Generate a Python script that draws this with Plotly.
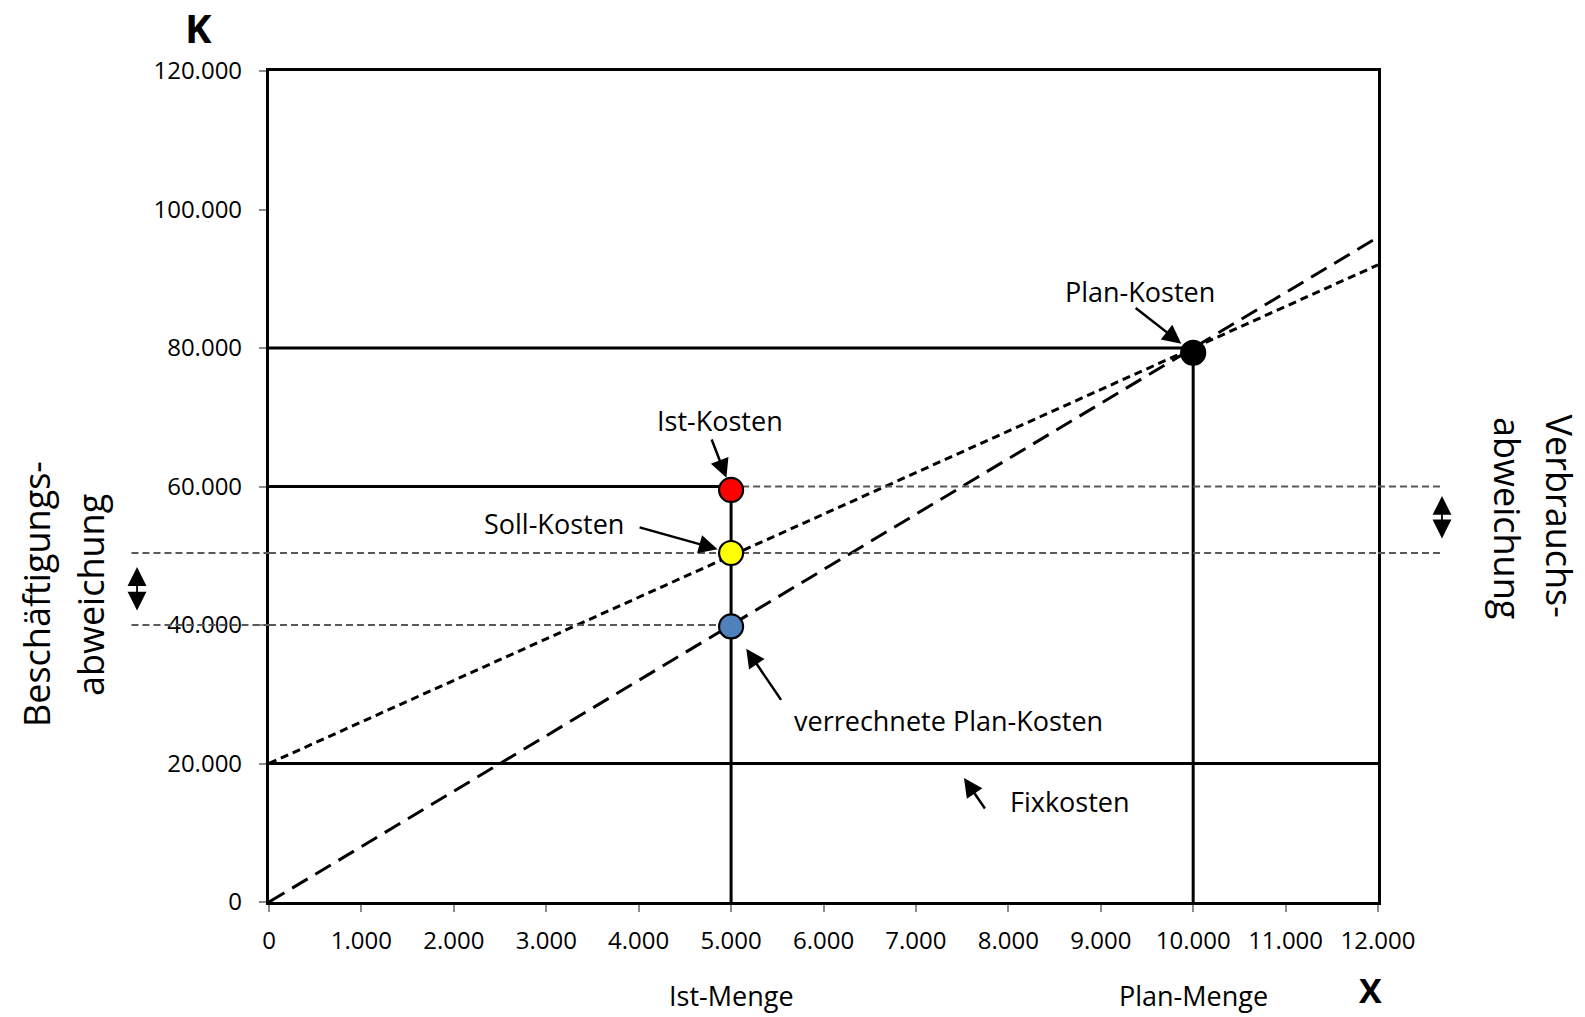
import plotly.graph_objects as go

# Axis extents and tick spacing
X_MAX = 12000
Y_MAX = 120000
X_STEP = 1000
Y_STEP = 20000

# Quantities
IST_MENGE = 5000
PLAN_MENGE = 10000

# Cost levels
FIXKOSTEN = 20000
PLAN_KOSTEN = 80000
IST_KOSTEN = 60000
SOLL_KOSTEN = 50400
VERRECHNET_KOSTEN = 40000

# Cost lines (x, K)
soll_line_x = [0, 12000]
soll_line_k = [20000, 92000]
verrechnet_line_x = [0, 11950]
verrechnet_line_k = [0, 95600]

# Marked points
point_names = ["Ist-Kosten", "Soll-Kosten", "verrechnete Plan-Kosten", "Plan-Kosten"]
point_x = [5000, 5000, 5000, 10000]
point_k = [59500, 50400, 39800, 79300]
point_colors = ["#ff0000", "#ffff00", "#4f81bd", "#000000"]

FONT = "Open Sans"
BLACK = "#000000"
GREY = "#595959"

fig = go.Figure()


def seg(xs, ys, color=BLACK, width=3, dash="solid"):
    fig.add_trace(go.Scatter(x=xs, y=ys, mode="lines", hoverinfo="skip",
                             line=dict(color=color, width=width, dash=dash)))


# Fixed costs
seg([0, X_MAX], [FIXKOSTEN, FIXKOSTEN])
# Budgeted cost line (Soll) and absorbed cost line (verrechnet)
seg(soll_line_x, soll_line_k, width=3, dash="8px,5px")
seg(verrechnet_line_x, verrechnet_line_k, width=3, dash="18px,9px")
# Reference lines at plan quantity
seg([0, PLAN_MENGE], [PLAN_KOSTEN, PLAN_KOSTEN])
seg([PLAN_MENGE, PLAN_MENGE], [0, point_k[3]])
# Reference lines at actual quantity
seg([0, IST_MENGE], [IST_KOSTEN, IST_KOSTEN])
seg([IST_MENGE, IST_MENGE], [0, point_k[0]])
# Grey guide lines for the variances (inside the plot area)
seg([0, IST_MENGE], [SOLL_KOSTEN, SOLL_KOSTEN], color=GREY, width=2.2, dash="7px,4px")
seg([0, IST_MENGE], [VERRECHNET_KOSTEN, VERRECHNET_KOSTEN], color=GREY, width=2.2, dash="7px,4px")
seg([IST_MENGE, X_MAX], [IST_KOSTEN, IST_KOSTEN], color=GREY, width=2.2, dash="7px,4px")
seg([IST_MENGE, X_MAX], [SOLL_KOSTEN, SOLL_KOSTEN], color=GREY, width=2.2, dash="7px,4px")

# Points
fig.add_trace(go.Scatter(
    x=point_x, y=point_k, mode="markers", text=point_names, hoverinfo="text",
    marker=dict(size=24, color=point_colors, line=dict(color=BLACK, width=2.2)),
))

# Grey guide lines continuing outside the plot area
LEFT_END = -0.124
RIGHT_END = 1.0595
shapes = []
for lvl in (SOLL_KOSTEN, VERRECHNET_KOSTEN):
    shapes.append(dict(type="line", xref="paper", yref="y", x0=LEFT_END, x1=0,
                       y0=lvl, y1=lvl, layer="above",
                       line=dict(color=GREY, width=2.2, dash="7px,4px")))
for lvl in (IST_KOSTEN, SOLL_KOSTEN):
    shapes.append(dict(type="line", xref="paper", yref="y", x0=1, x1=RIGHT_END,
                       y0=lvl, y1=lvl, layer="above",
                       line=dict(color=GREY, width=2.2, dash="7px,4px")))

annotations = []


def label(text, x, y, size=27, xref="x", yref="y", bold=False, angle=0):
    annotations.append(dict(
        text=f"<b>{text}</b>" if bold else text, x=x, y=y, xref=xref, yref=yref,
        showarrow=False, xanchor="center", yanchor="middle", textangle=angle,
        font=dict(family=FONT, size=size, color=BLACK)))


def pointer(x, y, ax, ay, standoff=0, xref="x", yref="y"):
    annotations.append(dict(
        text="", x=x, y=y, xref=xref, yref=yref, ax=ax, ay=ay,
        showarrow=True, arrowhead=2, arrowsize=1.5, arrowwidth=2.5,
        arrowcolor=BLACK, standoff=standoff))


def double_arrow(x, y, ay):
    annotations.append(dict(
        text="", x=x, y=y, xref="paper", yref="paper", ax=0, ay=ay,
        showarrow=True, arrowside="end+start", arrowhead=2, startarrowhead=2,
        arrowsize=2.1, startarrowsize=2.1, arrowwidth=1.8, arrowcolor=BLACK))


# Point labels with pointers
label("Plan-Kosten", 9425, 88100)
pointer(point_x[3], point_k[3], -59, -46, standoff=15)
label("Ist-Kosten", 4880, 69600)
pointer(point_x[0], point_k[0], -20, -52, standoff=13)
label("Soll-Kosten", 3085, 54660)
pointer(point_x[1], point_k[1], -93, -26, standoff=14)
label("verrechnete Plan-Kosten", 7355, 26150)
pointer(point_x[2], point_k[2], 51, 75, standoff=27)
label("Fixkosten", 8670, 14580)
pointer(7520, 17900, 22, 32)

# Axis names
label("K", -0.064, 1.052, size=40, xref="paper", yref="paper", bold=True)
label("X", 0.993, -0.106, size=34, xref="paper", yref="paper", bold=True)
label("Ist-Menge", IST_MENGE, -0.113, xref="x", yref="paper")
label("Plan-Menge", PLAN_MENGE, -0.113, xref="x", yref="paper")

# Variance labels and arrows
label("Beschäftigungs-", -0.2101, 0.3706, size=36, xref="paper", yref="paper", angle=-90)
label("abweichung", -0.1614, 0.3694, size=36, xref="paper", yref="paper", angle=-90)
label("Verbrauchs-", 1.1645, 0.4645, size=36, xref="paper", yref="paper", angle=90)
label("abweichung", 1.1163, 0.4621, size=36, xref="paper", yref="paper", angle=90)
double_arrow(-0.119, 0.403, 45)
double_arrow(1.0577, 0.4886, 44)

axis_common = dict(
    showgrid=False, zeroline=False, showline=True, linecolor=BLACK, linewidth=3.2,
    mirror=True, ticks="outside", ticklen=7, tickwidth=1.5, tickcolor="#8c8c8c",
    tickformat=",d", tickfont=dict(family=FONT, size=24, color=BLACK),
)

fig.update_xaxes(range=[0, X_MAX], tick0=0, dtick=X_STEP, ticklabelstandoff=8, **axis_common)
fig.update_yaxes(range=[0, Y_MAX], tick0=0, dtick=Y_STEP, ticklabelstandoff=12, **axis_common)

fig.update_layout(
    width=1585, height=1017, autosize=False,
    margin=dict(l=269, r=207, t=71, b=115, pad=0),
    plot_bgcolor="white", paper_bgcolor="white",
    showlegend=False, separators=",.",
    font=dict(family=FONT, size=24, color=BLACK),
    shapes=shapes, annotations=annotations,
)

fig.write_html("out.html")
